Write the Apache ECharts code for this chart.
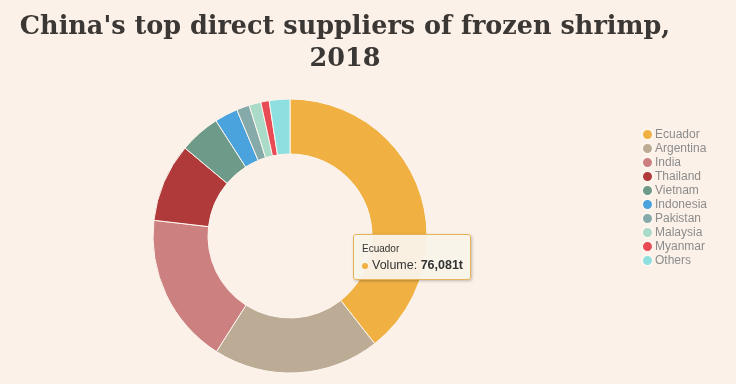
<!DOCTYPE html>
<html>
<head>
<meta charset="utf-8">
<script src="https://cdn.jsdelivr.net/npm/echarts@6/dist/echarts.min.js"></script>
<style>
html,body{margin:0;padding:0;background:#fcf1e8;}
#chart{width:736px;height:384px;}
</style>
</head>
<body>
<div id="chart"></div>
<script>
var countries = ['Ecuador','Argentina','India','Thailand','Vietnam','Indonesia','Pakistan','Malaysia','Myanmar','Others'];
var volumes = [76081, 37900, 34400, 17900, 9300, 5300, 2950, 2700, 1900, 4700];
var colors = ['#f0b042','#bcab95','#cc8080','#b03a3a','#6e9a8a','#4aa3dd','#86a9a9','#aadbc8','#e84b55','#8ee0e0'];
var titleText = "China's top direct suppliers of frozen shrimp,\n2018";

var chart = echarts.init(document.getElementById('chart'), null, {renderer:'canvas'});
var data = countries.map(function(c,i){ return {name:c, value:volumes[i]}; });
chart.setOption({
  animation:false,
  backgroundColor:'#fcf1e8',
  color: colors,
  title:{
    text: titleText,
    left: 340,
    top: 6,
    textAlign:'center',
    textStyle:{fontFamily:'DejaVu Serif',fontWeight:'bold',fontSize:25.5,color:'#3a3735',lineHeight:32}
  },
  legend:{
    orient:'vertical',
    left:636,
    top:123,
    icon:'circle',
    itemWidth:11,
    itemHeight:11,
    itemGap:1,
    textStyle:{fontFamily:'Liberation Sans',fontSize:12,color:'#8c8c8c',padding:[0,0,0,-3]},
    data: countries
  },
  tooltip:{
    trigger:'item',
    triggerOn:'none',
    alwaysShowContent:true,
    position:[353,234],
    backgroundColor:'rgba(249,243,234,0.95)',
    borderColor:'#e8b45a',
    borderWidth:1,
    padding:[7,7,5,8],
    extraCssText:'box-shadow:1px 1px 3px rgba(0,0,0,0.25);border-radius:3px;',
    formatter:function(p){
      return '<div style="font-family:Liberation Sans,Arial;font-size:10px;color:#333;line-height:14px">'+p.name+'</div>'+
        '<div style="font-family:Liberation Sans,Arial;font-size:12.5px;color:#333;line-height:18px">'+
        '<span style="display:inline-block;width:6px;height:6px;border-radius:3px;background:'+p.color+';margin-right:4px;vertical-align:middle"></span>'+
        'Volume: <b>'+p.value.toLocaleString('en-US')+'t</b></div>';
    }
  },
  series:[{
    type:'pie',
    center:[290,236],
    radius:[82,137],
    startAngle:90,
    clockwise:true,
    avoidLabelOverlap:false,
    label:{show:false},
    labelLine:{show:false},
    emphasis:{scale:false},
    itemStyle:{borderColor:'#fdf6ee',borderWidth:1},
    data:data
  }]
});
chart.dispatchAction({type:'showTip',seriesIndex:0,dataIndex:0});
</script>
</body>
</html>
